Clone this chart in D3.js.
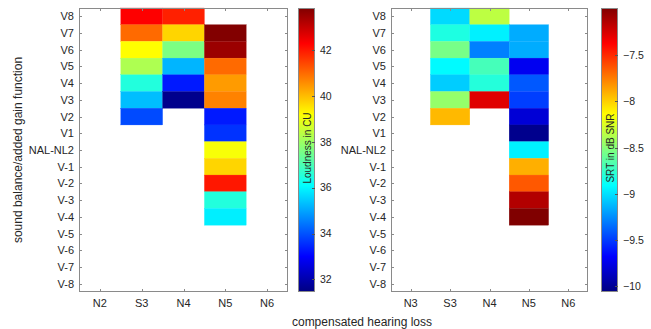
<!DOCTYPE html>
<html><head><meta charset="utf-8">
<script src="https://cdn.jsdelivr.net/npm/d3@7"></script>
<style>body{margin:0;background:#fff}svg{display:block}text{font-family:"Liberation Sans",Arial,sans-serif;fill:#262626}</style>
</head><body><svg id="c" width="651" height="329"></svg>
<script>
const rows = ["V8","V7","V6","V5","V4","V3","V2","V1","NAL-NL2","V-1","V-2","V-3","V-4","V-5","V-6","V-7","V-8"];
const colsLeft = ["N2","S3","N4","N5","N6"];
const colsRight = ["N3","S3","N4","N5","N6"];
// Loudness in CU, per column, rows V8..V-8 (null = no data)
const loudN2 = [];
const loudS3 = [42.3, 41.0, 39.2, 38.2, 36.5, 35.3, 33.9];
const loudN4 = [41.9, 39.7, 37.6, 35.2, 33.3, 31.6];
const loudN5 = [null, 43.8, 43.5, 41.0, 40.4, 40.7, 33.3, 33.6, 39.1, 39.7, 42.0, 36.5, 35.9];
const loudN6 = [];
// SRT in dB SNR
const srtN3 = [];
const srtS3 = [-9.02, -8.82, -8.55, -8.92, -9.06, -8.46, -7.93];
const srtN4 = [-8.34, -8.95, -9.29, -8.70, -8.80, -7.28];
const srtN5 = [null, -9.16, -9.16, -9.72, -9.41, -9.49, -9.80, -10.02, -8.95, -7.90, -7.64, -7.14, -6.99];
const srtN6 = [];
const loudLimits = [31.45, 43.83];
const srtLimits = [-10.06, -6.99];
const loudTicks = [32, 34, 36, 38, 40, 42];
const srtTicks = [-10, -9.5, -9, -8.5, -8, -7.5];

const svg = d3.select("#c");
const jetStops = [0, 0.125, 0.375, 0.625, 0.875, 1];
const jetColors = ["#000080", "#0000ff", "#00ffff", "#ffff00", "#ff0000", "#800000"];
const jet = d3.scaleLinear().domain(jetStops).range(jetColors).interpolate(d3.interpolateRgb).clamp(true);

function panel(cfg) {
  const g = svg.append("g");
  const x = d3.scaleBand().domain(cfg.cols).range([cfg.x0, cfg.x1]);
  const y = d3.scaleBand().domain(rows).range([8, 292]);
  const norm = d3.scaleLinear().domain(cfg.limits).range([0, 1]);
  const cells = [];
  cfg.cols.forEach((c, i) => {
    (cfg.data[i] || []).forEach((v, j) => { if (v != null) cells.push({c, r: rows[j], v}); });
  });
  g.selectAll("rect.cell").data(cells).join("rect").attr("class", "cell")
    .attr("x", d => x(d.c)).attr("y", d => y(d.r))
    .attr("width", x.bandwidth()).attr("height", y.bandwidth())
    .attr("fill", d => jet(norm(d.v))).attr("stroke", d => jet(norm(d.v))).attr("stroke-width", 0.3);
  // box
  g.append("rect").attr("x", cfg.x0 + 0.5).attr("y", 8.5).attr("width", cfg.x1 - cfg.x0 - 1).attr("height", 283)
    .attr("fill", "none").attr("stroke", "#8a8a8a");
  const ax = g.append("g").attr("stroke", "#8a8a8a");
  rows.forEach(r => {
    const yy = Math.round(y(r) + y.bandwidth() / 2) + 0.5;
    ax.append("line").attr("x1", cfg.x0).attr("x2", cfg.x0 + 3).attr("y1", yy).attr("y2", yy);
    ax.append("line").attr("x1", cfg.x1 - 3).attr("x2", cfg.x1).attr("y1", yy).attr("y2", yy);
  });
  cfg.cols.forEach(c => {
    const xx = Math.round(x(c) + x.bandwidth() / 2) + 0.5;
    ax.append("line").attr("x1", xx).attr("x2", xx).attr("y1", 8).attr("y2", 11);
    ax.append("line").attr("x1", xx).attr("x2", xx).attr("y1", 289).attr("y2", 292);
  });
  g.selectAll("text.yl").data(rows).join("text").attr("class", "yl")
    .attr("x", cfg.x0 - 5).attr("y", d => y(d) + y.bandwidth() / 2 + 4)
    .attr("text-anchor", "end").attr("font-size", 11).text(d => d);
  g.selectAll("text.xl").data(cfg.cols).join("text").attr("class", "xl")
    .attr("x", d => x(d) + x.bandwidth() / 2).attr("y", 307)
    .attr("text-anchor", "middle").attr("font-size", 11).text(d => d);
  // colorbar
  const cb = d3.scaleLinear().domain(cfg.limits).range([292, 8]);
  const gid = "grad" + cfg.id;
  const grad = svg.append("defs").append("linearGradient").attr("id", gid)
    .attr("x1", 0).attr("y1", 1).attr("x2", 0).attr("y2", 0);
  jetStops.forEach((s, i) => grad.append("stop").attr("offset", s).attr("stop-color", jetColors[i]));
  g.append("rect").attr("x", cfg.cbx).attr("y", 8).attr("width", cfg.cbw).attr("height", 284)
    .attr("fill", `url(#${gid})`);
  g.append("rect").attr("x", cfg.cbx + 0.5).attr("y", 8.5).attr("width", cfg.cbw - 1).attr("height", 283)
    .attr("fill", "none").attr("stroke", "#8a8a8a");
  const cbAxis = d3.axisRight(cb).tickValues(cfg.ticks).tickSize(0).tickPadding(5).tickFormat(d3.format("~g"));
  const ag = g.append("g").attr("transform", `translate(${cfg.cbx + cfg.cbw},0)`).call(cbAxis);
  ag.select(".domain").remove();
  ag.selectAll("text").attr("font-size", 10.5).attr("font-family", "Liberation Sans, Arial, sans-serif").attr("fill", "#262626");
  cfg.ticks.forEach(t => {
    const yy = Math.round(cb(t)) + 0.5;
    g.append("line").attr("x1", cfg.cbx + cfg.cbw - 3).attr("x2", cfg.cbx + cfg.cbw).attr("y1", yy).attr("y2", yy).attr("stroke", "#555");
  });
  g.append("text").attr("transform", `translate(${cfg.cbx + cfg.cbw / 2 + 4},148) rotate(-90)`)
    .attr("text-anchor", "middle").attr("font-size", 10).text(cfg.label);
}

panel({id: "L", cols: colsLeft, data: [loudN2, loudS3, loudN4, loudN5, loudN6], x0: 79, x1: 288,
  limits: loudLimits, ticks: loudTicks, cbx: 298, cbw: 17, label: "Loudness in CU"});
panel({id: "R", cols: colsRight, data: [srtN3, srtS3, srtN4, srtN5, srtN6], x0: 391, x1: 588,
  limits: srtLimits, ticks: srtTicks, cbx: 601, cbw: 17, label: "SRT in dB SNR"});

svg.append("text").attr("transform", "translate(22,150) rotate(-90)").attr("text-anchor", "middle")
  .attr("font-size", 12).text("sound balance/added gain function");
svg.append("text").attr("x", 362).attr("y", 326).attr("text-anchor", "middle")
  .attr("font-size", 12).text("compensated hearing loss");
</script></body></html>
